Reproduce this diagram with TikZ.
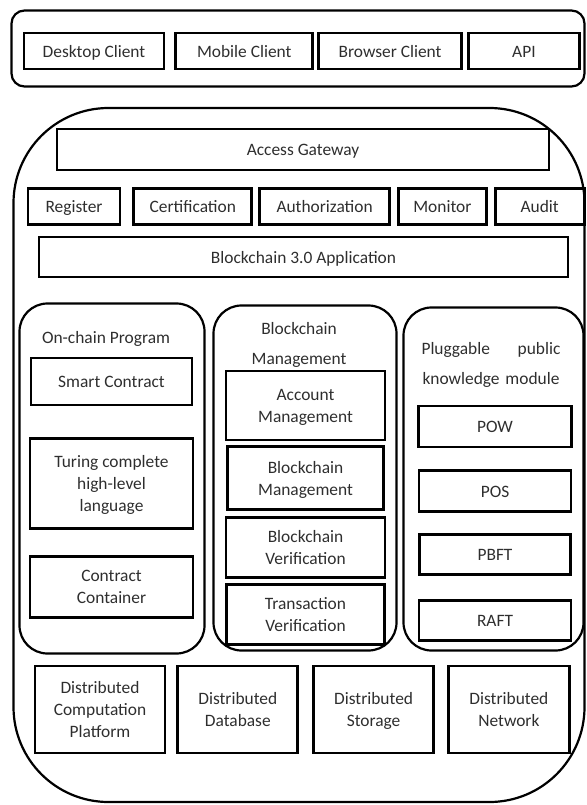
\documentclass[tikz,border=0pt]{standalone}
\usepackage{fontspec}
\setmainfont{Carlito}
\usepackage{xcolor}
\usepackage{tikz}
\usetikzlibrary{positioning}
\definecolor{bcInk}{HTML}{2E2E2E}
\tikzset{
  layer box/.style={draw=black,line width=2.8pt,text=bcInk,align=center,inner sep=1pt,
    text depth=0pt,font=\fontsize{17.4}{22}\selectfont},
  one line/.style={layer box,text height=12.5pt},
  shell/.style={draw=black,line width=2.2pt,rounded corners=#1},
  shell/.default=13pt,
  caption/.style={text=bcInk,align=center,inner sep=0pt,font=\fontsize{17.4}{22}\selectfont}
}
\begin{document}
\begin{tikzpicture}[x=1pt,y=-1pt]
\useasboundingbox (0,0) rectangle (586,805);
% outer frames
\node[shell,minimum width=573pt,minimum height=76pt] (clients) at (298,48.5) {};
\node[shell=95pt,minimum width=571pt,minimum height=694pt] (platform) at (299,455) {};
\node[shell=28pt,minimum width=185pt,minimum height=350pt] (onchain) at (112,478.5) {};
\node[shell=28pt,minimum width=183pt,minimum height=345pt] (manage) at (305,478) {};
\node[shell=28pt,minimum width=180pt,minimum height=343pt] (plug) at (493.5,479) {};
% client row
\node[one line,minimum width=140pt,minimum height=36pt] (desk) at (94,51) {Desktop Client};
\node[one line,minimum width=137pt,minimum height=36pt,right=9pt of desk] (mobile) {Mobile Client};
\node[one line,minimum width=143pt,minimum height=36pt,right=3pt of mobile] (browser) {Browser Client};
\node[one line,minimum width=111pt,minimum height=36pt,right=4pt of browser] (api) {API};
% access layer
\node[one line,minimum width=492pt,minimum height=41pt] (gate) at (303,149.5) {Access Gateway};
\node[one line,minimum width=92pt,minimum height=36pt] (reg) at (74,206.5) {Register};
\node[one line,minimum width=118pt,minimum height=36pt,right=11pt of reg] (cert) {Certification};
\node[one line,minimum width=130pt,minimum height=36pt,right=5pt of cert] (auth) {Authorization};
\node[one line,minimum width=88pt,minimum height=36pt,right=6pt of auth] (mon) {Monitor};
\node[one line,minimum width=89pt,minimum height=36pt,right=6pt of mon] (audit) {Audit};
\node[one line,minimum width=529pt,minimum height=40pt] (app) at (303.5,257) {Blockchain 3.0 Application};
% on-chain program
\node[caption] (onchaintitle) at (106,339) {On-chain Program};
\node[one line,minimum width=161pt,minimum height=47pt] (smart) at (111.5,381.5) {Smart Contract};
\node[layer box,minimum width=163pt,minimum height=90pt,below=31pt of smart] (turing) {Turing complete\\high-level\\language};
\node[layer box,minimum width=163pt,minimum height=61pt,below=25pt of turing] (contain) {Contract\\Container};
% blockchain management
\node[caption] (managetitle) at (299,344.5) {Blockchain\\[8pt]Management};
\node[layer box,minimum width=159pt,minimum height=69pt] (acct) at (305.5,405.5) {Account\\Management};
\node[layer box,minimum width=156pt,minimum height=63pt,below=4pt of acct] (chainman) {Blockchain\\Management};
\node[layer box,minimum width=159pt,minimum height=60pt,below=5pt of chainman] (chainver) {Blockchain\\Verification};
\node[layer box,minimum width=158pt,minimum height=60pt,below=4pt of chainver] (txver) {Transaction\\Verification};
% pluggable consensus
\node[caption,text width=139pt] (plugtitle) at (491,364.5) {Pluggable\hskip 0pt plus 1filll public\\[8pt]knowledge module};
\node[one line,minimum width=153pt,minimum height=41pt] (pow) at (495,426.5) {POW};
\node[one line,minimum width=152pt,minimum height=41pt,below=21pt of pow] (pos) {POS};
\node[one line,minimum width=151pt,minimum height=40pt,below=20pt of pos] (pbft) {PBFT};
\node[one line,minimum width=152pt,minimum height=40pt,below=23pt of pbft] (raft) {RAFT};
% distributed base
\node[layer box,minimum width=130pt,minimum height=87pt] (comp) at (100,709.5) {Distributed\\Computation\\Platform};
\node[layer box,minimum width=120pt,minimum height=87pt,right=10pt of comp] (db) {Distributed\\Database};
\node[layer box,minimum width=120pt,minimum height=87pt,right=13pt of db] (store) {Distributed\\Storage};
\node[layer box,minimum width=121pt,minimum height=87pt,right=12pt of store] (net) {Distributed\\Network};
\end{tikzpicture}
\end{document}
